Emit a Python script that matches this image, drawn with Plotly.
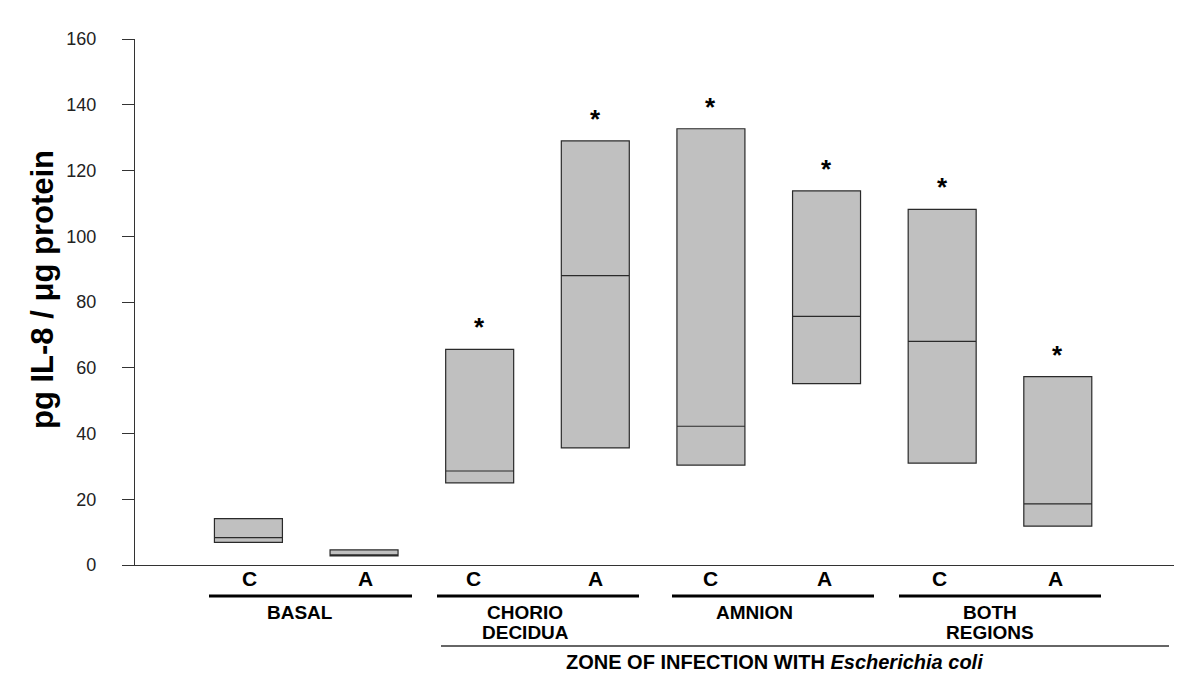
import plotly.graph_objects as go

# ---- data ----
groups = ["BASAL", "CHORIO DECIDUA", "AMNION", "BOTH REGIONS"]
box_labels = ["C", "A", "C", "A", "C", "A", "C", "A"]
positions = [0, 1, 2, 3, 4, 5, 6, 7]
q1 = [6.9, 2.8, 25.0, 35.6, 30.4, 55.2, 31.0, 11.8]
median = [8.3, 3.0, 28.6, 88.0, 42.2, 75.6, 68.0, 18.6]
q3 = [14.1, 4.6, 65.6, 129.0, 132.7, 113.8, 108.2, 57.3]
significant = [False, False, True, True, True, True, True, True]
y_ticks = [0, 20, 40, 60, 80, 100, 120, 140, 160]

FONT = "Liberation Sans, Arial, sans-serif"

fig = go.Figure()
fig.add_trace(go.Box(
    x=positions, q1=q1, median=median, q3=q3,
    lowerfence=q1, upperfence=q3,
    width=0.588, whiskerwidth=0,
    fillcolor="#c0c0c0",
    line=dict(color="#2a2a2a", width=1.2),
    boxpoints=False, showlegend=False, hoverinfo="skip",
))

annotations = []
# significance asterisks
for p, top, s in zip(positions, q3, significant):
    if s:
        annotations.append(dict(x=p, y=top, xref="x", yref="y", text="<b>*</b>",
                                showarrow=False, yanchor="middle", yshift=22,
                                font=dict(family=FONT, size=26, color="black")))

# page offset (body margin) and plot area in page pixels
OFF = 8
L, R, T, B = 135, 1174, 39, 565
def px(x):
    return (x - L) / (R - L)
def py(y):
    return (B - y) / (B - T)

# C / A labels
ca_x = [249, 365, 473, 595, 710, 824, 939, 1055]
for lab, xx in zip(box_labels, ca_x):
    annotations.append(dict(x=px(xx), y=py(578), xref="paper", yref="paper",
                            text="<b>%s</b>" % lab, showarrow=False,
                            yanchor="middle", xanchor="center",
                            font=dict(family=FONT, size=21, color="black")))

# group labels
group_lines = [["BASAL"], ["CHORIO", "DECIDUA"], ["AMNION"], ["BOTH", "REGIONS"]]
group_x = [300, 525, 754, 990]
for lines, xx in zip(group_lines, group_x):
    for k, t in enumerate(lines):
        annotations.append(dict(x=px(xx), y=py(612 + 20 * k), xref="paper", yref="paper",
                                text="<b>%s</b>" % t, showarrow=False,
                                yanchor="middle", xanchor="center",
                                font=dict(family=FONT, size=19, color="black")))

annotations.append(dict(x=px(774), y=py(662), xref="paper", yref="paper",
                        text="<b>ZONE OF INFECTION WITH <i>Escherichia coli</i></b>",
                        showarrow=False, yanchor="middle", xanchor="center",
                        font=dict(family=FONT, size=20, color="black")))

# y-axis title
annotations.append(dict(x=px(42), y=py(290), xref="paper", yref="paper",
                        text="<b>pg IL-8 / \u03bcg protein</b>", textangle=-90,
                        showarrow=False, xanchor="center", yanchor="middle",
                        font=dict(family=FONT, size=31, color="black")))

shapes = []
group_spans = [(209, 412), (437, 639), (672, 874), (899, 1101)]
for a, b in group_spans:
    shapes.append(dict(type="line", xref="paper", yref="paper",
                       x0=px(a), x1=px(b), y0=py(596), y1=py(596),
                       line=dict(color="black", width=3)))
shapes.append(dict(type="line", xref="paper", yref="paper",
                   x0=px(441), x1=px(1169), y0=py(646), y1=py(646),
                   line=dict(color="#333", width=1.3)))

W, H = 1200 - OFF, 690 - OFF
fig.update_layout(
    width=W, height=H,
    margin=dict(l=L - OFF, r=W + OFF - R, t=T - OFF, b=H + OFF - B),
    paper_bgcolor="white", plot_bgcolor="white",
    annotations=annotations, shapes=shapes,
    font=dict(family=FONT, color="black"),
    xaxis=dict(range=[-0.981, 8.005], showline=True, linecolor="#333", linewidth=1.3,
               showticklabels=False, ticks="", showgrid=False, zeroline=False),
    yaxis=dict(range=[0, 160], tickvals=y_ticks, showline=True, linecolor="#333",
               linewidth=1.3, ticks="outside", ticklen=12, tickwidth=1.3, tickcolor="#333",
               showgrid=False, zeroline=False, ticklabelstandoff=22,
               tickfont=dict(family=FONT, size=18, color="#222")),
)

fig.write_html("out.html")
